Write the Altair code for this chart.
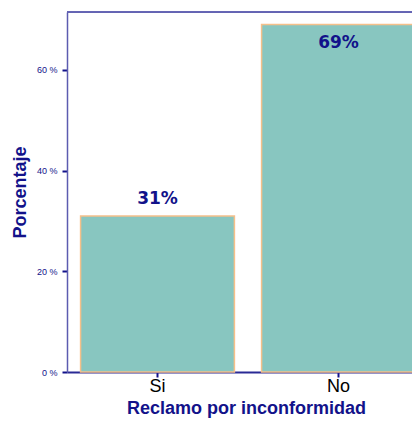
import altair as alt
import pandas as pd

categories = ["Si", "No"]
values = [31, 69]
labels = ["31%", "69%"]
label_pos = ["above", "inside"]

df = pd.DataFrame({"cat": categories, "val": values, "lab": labels, "pos": label_pos})

navy = "#12128a"

x_enc = alt.X(
    "cat:N",
    sort=categories,
    scale=alt.Scale(domain=categories, range=[0, 362], paddingInner=0.15, paddingOuter=0.075),
    axis=alt.Axis(
        title="Reclamo por inconformidad",
        titleFont="Liberation Sans", titleFontSize=18, titleFontWeight="bold", titleColor=navy,
        titlePadding=4, titleX=179,
        labelFont="Liberation Sans", labelFontSize=18, labelColor="#000000", labelAngle=0, labelPadding=0,
        domainColor="#2a2a95", domainWidth=2, tickColor=navy, tickSize=5, tickWidth=2,
    ),
)
y_scale = alt.Scale(domain=[0, 71.5], nice=False)

bars = alt.Chart(df).mark_bar(
    color="#88c6c0", stroke="#f5c08a", strokeWidth=1.5
).encode(
    x=x_enc,
    y=alt.Y(
        "val:Q",
        scale=y_scale,
        axis=alt.Axis(
            title="Porcentaje",
            titleFont="Liberation Sans", titleFontSize=18, titleFontWeight="bold", titleColor=navy,
            titlePadding=7,
            values=[0, 20, 40, 60], labelExpr="datum.value + ' %'",
            labelFont="Liberation Sans", labelFontSize=9, labelColor=navy, labelPadding=5,
            domainColor="#5c5cb0", domainWidth=1.5, tickColor=navy, tickSize=5, tickWidth=2,
            grid=False,
        ),
    ),
)

text_above = alt.Chart(df).transform_filter("datum.pos == 'above'").mark_text(
    font="DejaVu Sans", fontSize=17, fontWeight="bold", color=navy, dy=-17
).encode(x=alt.X("cat:N", sort=categories), y=alt.Y("val:Q"), text="lab:N")

text_inside = alt.Chart(df).transform_filter("datum.pos == 'inside'").mark_text(
    font="DejaVu Sans", fontSize=17, fontWeight="bold", color=navy, dy=18
).encode(x=alt.X("cat:N", sort=categories), y=alt.Y("val:Q"), text="lab:N")

top_line = alt.Chart(df).mark_rule(color="#5c5cb0", strokeWidth=1.5).encode(
    x=alt.value(0), x2=alt.value(362), y=alt.value(0)
)

chart = alt.layer(bars, text_above, text_inside, top_line).properties(
    width=345, height=360,
    autosize=alt.AutoSizeParams(type="none"),
    padding={"left": 59, "top": 4, "right": 0, "bottom": 46},
).configure_view(stroke=None).configure(background="white")

chart.save("out.html", embed_options={"renderer": "svg", "actions": False})
